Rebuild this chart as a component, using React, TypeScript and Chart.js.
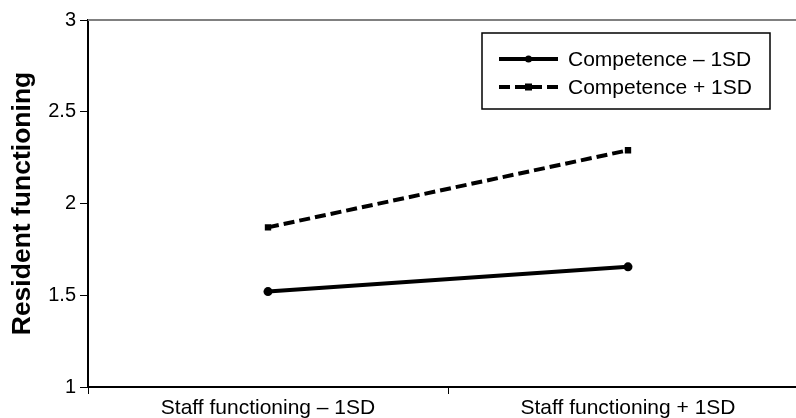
import React, { useEffect, useRef } from "react";
import { Chart, registerables } from "chart.js";

Chart.register(...registerables);

const categories = ["Staff functioning \u2013 1SD", "Staff functioning + 1SD"];
const seriesLabels = ["Competence \u2013 1SD", "Competence + 1SD"];
const competenceLow = [1.52, 1.655];
const competenceHigh = [1.87, 2.29];
const yTicks = [1, 1.5, 2, 2.5, 3];
const yTitle = "Resident functioning";

const FONT = "'Liberation Sans', Arial, sans-serif";

const frameAndLegend = {
  id: "frameAndLegend",
  afterDraw(chart: any) {
    const ctx = chart.ctx;
    const { left, right, top } = chart.chartArea;
    ctx.save();
    // gray top frame line
    ctx.strokeStyle = "#808080";
    ctx.lineWidth = 2;
    ctx.beginPath();
    ctx.moveTo(left, top);
    ctx.lineTo(right + 20, top);
    ctx.stroke();

    // legend box
    const bx = 482, by = 33, bw = 288, bh = 76;
    ctx.fillStyle = "#fff";
    ctx.fillRect(bx, by, bw, bh);
    ctx.strokeStyle = "#000";
    ctx.lineWidth = 1.5;
    ctx.strokeRect(bx, by, bw, bh);
    const rows = [59, 87];
    chart.data.datasets.forEach((ds: any, i: number) => {
      const y = rows[i];
      const x0 = 499, x1 = 558;
      ctx.strokeStyle = "#000";
      ctx.lineWidth = ds.borderWidth;
      ctx.setLineDash(ds.borderDash || []);
      ctx.beginPath();
      ctx.moveTo(x0, y);
      ctx.lineTo(x1, y);
      ctx.stroke();
      ctx.setLineDash([]);
      ctx.fillStyle = "#000";
      const mx = (x0 + x1) / 2;
      if (ds.pointStyle === "rect") {
        ctx.fillRect(mx - 3.5, y - 3.5, 7, 7);
      } else {
        ctx.beginPath();
        ctx.arc(mx, y, 3.5, 0, Math.PI * 2);
        ctx.fill();
      }
      ctx.font = `21px ${FONT}`;
      ctx.textBaseline = "middle";
      ctx.textAlign = "left";
      ctx.fillText(ds.label, 568, y + 1);
    });
    ctx.restore();
  },
};

export default function App() {
  const ref = useRef<HTMLCanvasElement | null>(null);
  useEffect(() => {
    if (!ref.current) return;
    const chart = new Chart(ref.current, {
      type: "line",
      data: {
        labels: categories,
        datasets: [
          {
            label: seriesLabels[0],
            data: competenceLow,
            borderColor: "#000",
            backgroundColor: "#000",
            borderWidth: 4,
            pointStyle: "circle",
            pointRadius: 4.5,
            pointBorderWidth: 0,
            tension: 0,
          },
          {
            label: seriesLabels[1],
            data: competenceHigh,
            borderColor: "#000",
            backgroundColor: "#000",
            borderWidth: 4,
            borderDash: [11, 5],
            pointStyle: "rect",
            pointRadius: 4.5,
            pointBorderWidth: 0,
            tension: 0,
          },
        ],
      },
      options: {
        animation: false,
        responsive: false,
        devicePixelRatio: 1,
        layout: { padding: { top: 20, right: 22, left: 0, bottom: 0 } },
        plugins: {
          legend: { display: false },
          tooltip: { enabled: false },
        },
        scales: {
          x: {
            type: "category",
            offset: true,
            grid: {
              offset: true,
              drawOnChartArea: false,
              drawTicks: true,
              tickLength: 7,
              color: "#000",
              lineWidth: 1,
            },
            border: { display: true, color: "#000", width: 2 },
            ticks: {
              color: "#000",
              font: { family: FONT, size: 21 },
              padding: 2,
              maxRotation: 0,
              autoSkip: false,
            },
            afterFit(scale: any) {
              scale.height = 31;
            },
          },
          y: {
            type: "linear",
            min: 1,
            max: 3,
            afterBuildTicks(scale: any) {
              scale.ticks = yTicks.map((v) => ({ value: v }));
            },
            grid: {
              drawOnChartArea: false,
              drawTicks: true,
              tickLength: 8,
              color: "#000",
              lineWidth: 1,
            },
            border: { display: true, color: "#000", width: 2 },
            ticks: {
              color: "#000",
              font: { family: FONT, size: 20 },
              padding: 4,
              callback: (v: any) => String(v),
            },
            title: {
              display: true,
              text: yTitle,
              color: "#000",
              font: { family: FONT, size: 26.5, weight: "bold" },
              padding: { top: 7, bottom: 0 },
            },
            afterFit(scale: any) {
              scale.width = 88;
            },
          },
        },
      },
      plugins: [frameAndLegend],
    });
    return () => chart.destroy();
  }, []);
  return (
    <div style={{ position: "fixed", left: 0, top: 0, width: 796, height: 418, overflow: "hidden", background: "#fff" }}>
      <canvas ref={ref} width={830} height={418} style={{ display: "block" }} />
    </div>
  );
}
